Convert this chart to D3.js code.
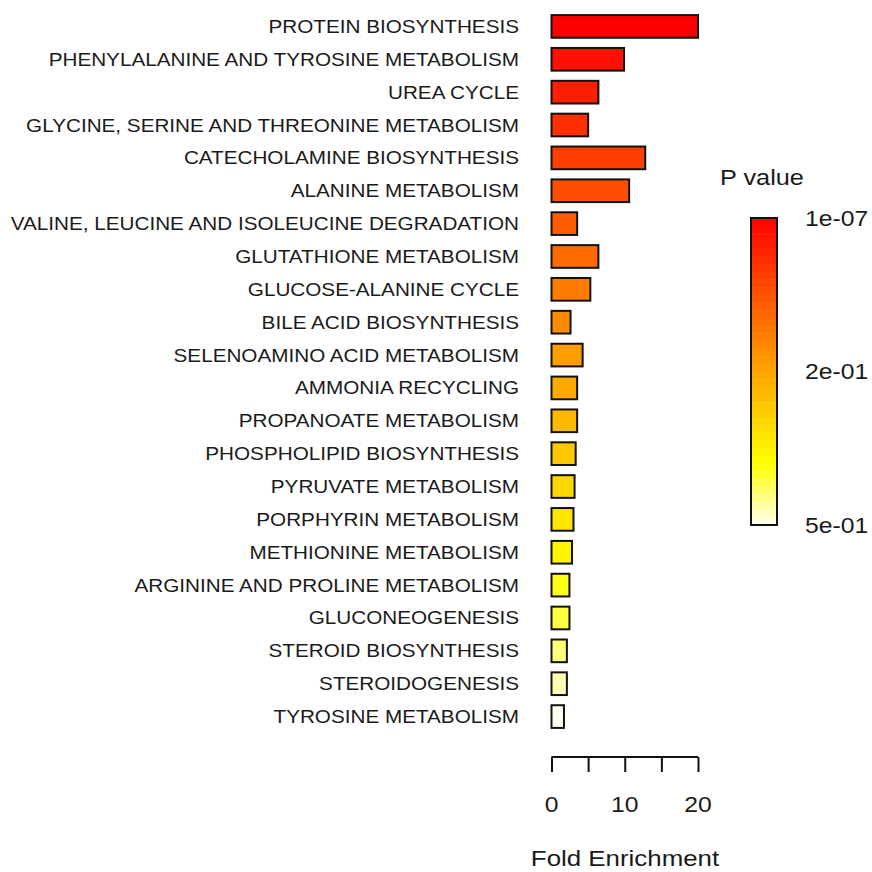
<!DOCTYPE html>
<html>
<head>
<meta charset="utf-8">
<title></title>
<style type="text/css">
  body{ margin:0; background:#fff; }
  text{ font-family: "Liberation Sans", Arial, sans-serif; fill:#1a1a1a; }
</style>
</head>
<body>
<div id="chart"></div>
<script src="https://d3js.org/d3.v7.min.js"></script>
<script>
let pathways = [
  "PROTEIN BIOSYNTHESIS",
  "PHENYLALANINE AND TYROSINE METABOLISM",
  "UREA CYCLE",
  "GLYCINE, SERINE AND THREONINE METABOLISM",
  "CATECHOLAMINE BIOSYNTHESIS",
  "ALANINE METABOLISM",
  "VALINE, LEUCINE AND ISOLEUCINE DEGRADATION",
  "GLUTATHIONE METABOLISM",
  "GLUCOSE-ALANINE CYCLE",
  "BILE ACID BIOSYNTHESIS",
  "SELENOAMINO ACID METABOLISM",
  "AMMONIA RECYCLING",
  "PROPANOATE METABOLISM",
  "PHOSPHOLIPID BIOSYNTHESIS",
  "PYRUVATE METABOLISM",
  "PORPHYRIN METABOLISM",
  "METHIONINE METABOLISM",
  "ARGININE AND PROLINE METABOLISM",
  "GLUCONEOGENESIS",
  "STEROID BIOSYNTHESIS",
  "STEROIDOGENESIS",
  "TYROSINE METABOLISM"
];
let foldEnrichment = [20.0, 9.9, 6.4, 5.0, 12.8, 10.6, 3.5, 6.4, 5.3, 2.6, 4.25,
                      3.5, 3.5, 3.3, 3.15, 3.0, 2.8, 2.45, 2.45, 2.1, 2.1, 1.7];
let pValues = [1e-7, 0.02, 0.038, 0.057, 0.076, 0.095, 0.11, 0.13, 0.15, 0.17, 0.19,
               0.21, 0.24, 0.27, 0.30, 0.33, 0.36, 0.39, 0.41, 0.44, 0.47, 0.5];
let xTicks = [0, 5, 10, 15, 20];
let xTickLabels = ["0", "", "10", "", "20"];
let legendTicks = [1e-7, 0.2, 0.5];
let legendLabels = ["1e-07", "2e-01", "5e-01"];

let w = 872, h = 872;
let sx = 1.15; // the fonts in the original look stretched sideways

let svg = d3.select("#chart").append("svg")
  .attr("width", w)
  .attr("height", h);

let x = d3.scaleLinear().domain([0, 20]).range([551.5, 698]);
let y = d3.scaleBand().domain(pathways).range([10, 733]).paddingInner(0.31).paddingOuter(0.155);

// p value -> position on the legend bar (0 top, 1 bottom)
let pPos = d3.scaleLinear().domain([1e-7, 0.2, 0.5]).range([0, 0.5, 1]).clamp(true);
let ramp = d3.scaleLinear()
  .domain([0, 0.5, 0.8, 1])
  .range(["#ff0000", "#ffa500", "#ffff00", "#fffff0"]);
let color = function(p){ return ramp(pPos(p)); };

let data = pathways.map(function(d, i){
  return {name: d, fe: foldEnrichment[i], p: pValues[i]};
});

svg.selectAll("rect.bar")
  .data(data)
  .enter()
  .append("rect")
  .attr("class", "bar")
  .attr("x", x(0))
  .attr("y", function(d){ return y(d.name); })
  .attr("width", function(d){ return x(d.fe) - x(0); })
  .attr("height", y.bandwidth())
  .attr("fill", function(d){ return color(d.p); })
  .attr("stroke", "#111")
  .attr("stroke-width", 2);

svg.selectAll("text.lab")
  .data(data)
  .enter()
  .append("text")
  .attr("class", "lab")
  .attr("transform", function(d){
    return "translate(519," + (y(d.name) + y.bandwidth() / 2) + ") scale(" + sx + ",1)";
  })
  .attr("text-anchor", "end")
  .attr("dy", "0.36em")
  .attr("font-size", "18px")
  .text(function(d){ return d.name; });

// x axis
let axisY = 757;
let ax = svg.append("g")
  .attr("transform", "translate(0," + axisY + ")")
  .call(d3.axisBottom(x).tickValues(xTicks).tickSize(15).tickFormat(""));
ax.select(".domain").attr("d", "M" + x(0) + ",0H" + x(20)).attr("stroke", "#111").attr("stroke-width", 2);
ax.selectAll(".tick line").attr("stroke", "#111").attr("stroke-width", 2);

svg.selectAll("text.tick")
  .data(xTicks)
  .enter()
  .append("text")
  .attr("class", "tick")
  .attr("transform", function(d){ return "translate(" + x(d) + ",812) scale(" + sx + ",1)"; })
  .attr("text-anchor", "middle")
  .attr("font-size", "21.5px")
  .text(function(d, i){ return xTickLabels[i]; });

svg.append("text")
  .attr("transform", "translate(625,866) scale(" + sx + ",1)")
  .attr("text-anchor", "middle")
  .attr("font-size", "22.5px")
  .text("Fold Enrichment");

// legend
let lx = 751, lw = 26, ly0 = 218, ly1 = 525;
let ly = d3.scaleLinear().domain([0, 1]).range([ly0, ly1]);
let steps = d3.range(0, 40);
svg.selectAll("rect.leg")
  .data(steps)
  .enter()
  .append("rect")
  .attr("class", "leg")
  .attr("x", lx)
  .attr("y", function(d){ return ly(d / 40); })
  .attr("width", lw)
  .attr("height", (ly1 - ly0) / 40 + 0.5)
  .attr("fill", function(d){ return ramp((d + 0.5) / 40); });
svg.append("rect")
  .attr("x", lx).attr("y", ly0)
  .attr("width", lw).attr("height", ly1 - ly0)
  .attr("fill", "none")
  .attr("stroke", "#111")
  .attr("stroke-width", 2);

svg.selectAll("text.legl")
  .data(legendTicks)
  .enter()
  .append("text")
  .attr("class", "legl")
  .attr("transform", function(d){ return "translate(805," + ly(pPos(d)) + ") scale(" + sx + ",1)"; })
  .attr("dy", "0.36em")
  .attr("font-size", "21.5px")
  .text(function(d, i){ return legendLabels[i]; });

svg.append("text")
  .attr("transform", "translate(720,185) scale(" + sx + ",1)")
  .attr("font-size", "22px")
  .text("P value");
</script>
</body>
</html>
